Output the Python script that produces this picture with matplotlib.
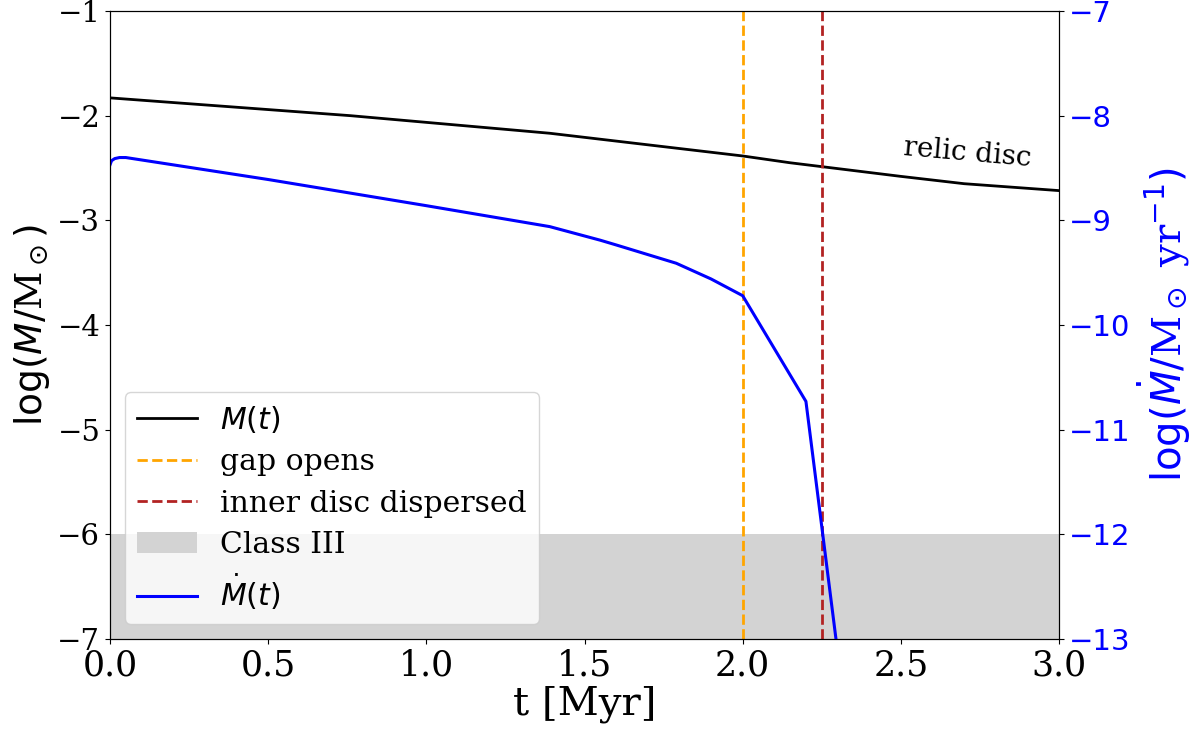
import matplotlib
matplotlib.use('Agg')
import matplotlib.pyplot as plt
import numpy as np

plt.rcParams['font.family'] = 'DejaVu Serif'
plt.rcParams['mathtext.fontset'] = 'dejavusans'

# disc mass, log(M/Msun)
t_mass = [0.0, 0.76, 1.39, 1.55, 2.0, 2.15, 2.25, 2.5, 2.7, 3.0]
log_mass = [-1.83, -2.0, -2.168, -2.225, -2.385, -2.45, -2.487, -2.58, -2.65, -2.716]

# accretion rate, log(Mdot/Msun/yr)
t_acc = [0.0, 0.005, 0.015, 0.03, 0.05, 0.5, 0.76, 1.0, 1.39, 1.55, 1.6, 1.79, 1.9, 2.0, 2.2, 2.3]
log_acc = [-8.47, -8.43, -8.41, -8.40, -8.40, -8.61, -8.74, -8.86, -9.06, -9.19, -9.235,
           -9.41, -9.56, -9.72, -10.73, -13.12]

t_gap = 2.0
t_inner = 2.25
class3_lim = -6

fig = plt.figure(1, figsize=(12, 7.38), dpi=100)
ax = fig.add_subplot(111)
fig.subplots_adjust(left=110/1200, right=1059/1200, top=1-11/738, bottom=1-639/738)

l1, = ax.plot(t_mass, log_mass, color='black', lw=2, label=r'$M(t)$')
l2 = ax.axvline(t_gap, color='orange', ls='--', lw=2, label='gap opens')
l3 = ax.axvline(t_inner, color='firebrick', ls='--', lw=2, label='inner disc dispersed')
p4 = ax.axhspan(-7, class3_lim, color='lightgray', lw=0, label='Class III')
ax.text(2.71, -2.36, 'relic disc', fontsize=20, rotation=-5, ha='center', va='center')

ax.set_xlim(0, 3)
ax.set_ylim(-7, -1)
ax.set_xticks(np.arange(0, 3.01, 0.5))
ax.set_yticks(np.arange(-7, -0.5, 1))
ax.tick_params(axis='x', labelsize=25)
ax.tick_params(axis='y', labelsize=21)
ax.set_xlabel('t [Myr]', fontsize=29, labelpad=2)
ax.set_ylabel(r'$\log(M/$M$_\odot)$', fontsize=27)

ax2 = ax.twinx()
l5, = ax2.plot(t_acc, log_acc, color='blue', lw=2.2, label=r'$\dot{M}(t)$')
ax2.set_ylim(-13, -7)
ax2.set_yticks(np.arange(-13, -6.5, 1))
ax2.tick_params(axis='y', labelsize=21, labelcolor='blue')
for lab in ax2.get_yticklabels():
    lab.set_fontfamily('DejaVu Sans')
ax2.set_ylabel(r'$\log(\dot{M}/$M$_\odot$ yr$^{-1})$', fontsize=29, color='blue')

ax2.legend([l1, l2, l3, p4, l5], [h.get_label() for h in [l1, l2, l3, p4, l5]],
           loc='lower left', fontsize=21.5, labelspacing=0.45)

fig.savefig('out.png', dpi=100)
